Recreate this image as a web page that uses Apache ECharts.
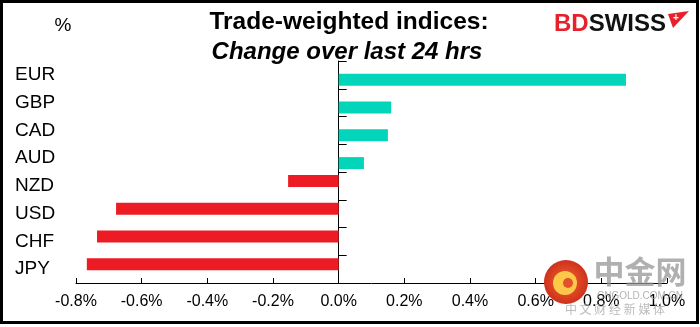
<!DOCTYPE html>
<html>
<head>
<meta charset="utf-8">
<script src="https://cdn.jsdelivr.net/npm/echarts@6/dist/echarts.min.js"></script>
<style>
  html, body { margin: 0; padding: 0; background: #fff; }
  #chart { width: 700px; height: 327px; }
</style>
</head>
<body>
<div id="chart"></div>
<script>
// Currencies, top to bottom
const currencies = ['EUR', 'GBP', 'CAD', 'AUD', 'NZD', 'USD', 'CHF', 'JPY'];
// Change in trade-weighted index over the last 24 hours, %
const changes = [0.875, 0.160, 0.150, 0.077, -0.154, -0.678, -0.736, -0.767];
// Value axis range and step, %
const axisMin = -0.8;
const axisMax = 1.0;
const axisStep = 0.2;

const FONT = '"Liberation Sans", Arial, sans-serif';
const UP = '#03d5ba';
const DOWN = '#ed1c24';

// Split into a falling and a rising series (Excel-style paired bars)
const fallers = changes.map(v => (v < 0 ? v : '-'));
const risers = changes.map(v => (v >= 0 ? v : '-'));

const chart = echarts.init(document.getElementById('chart'), null, { renderer: 'canvas' });

chart.setOption({
  animation: false,
  backgroundColor: '#fff',
  textStyle: { fontFamily: FONT },
  grid: { left: 76, right: 33, top: 61, bottom: 44, containLabel: false },
  xAxis: {
    type: 'value',
    min: axisMin,
    max: axisMax,
    interval: axisStep,
    axisLine: { show: true, onZero: false, lineStyle: { color: '#000', width: 1 } },
    axisTick: { show: true, inside: true, length: 5, lineStyle: { color: '#000' } },
    axisLabel: {
      color: '#000', fontSize: 16, fontFamily: FONT, margin: 11,
      formatter: v => v.toFixed(1) + '%'
    },
    splitLine: { show: false }
  },
  yAxis: [
    {
      // category names on the far left
      type: 'category',
      data: currencies,
      inverse: true,
      axisLine: { show: false, onZero: false },
      axisTick: { show: false },
      axisLabel: { color: '#000', fontSize: 19, fontFamily: FONT, align: 'left', margin: 61 }
    },
    {
      // zero line with inward ticks between categories
      type: 'category',
      data: currencies,
      inverse: true,
      position: 'left',
      axisLine: { show: true, onZero: true, lineStyle: { color: '#000', width: 1 } },
      axisTick: { show: true, inside: true, length: 8, lineStyle: { color: '#000' } },
      axisLabel: { show: false }
    }
  ],
  series: [
    {
      name: 'Down',
      type: 'bar',
      yAxisIndex: 0,
      data: fallers,
      barWidth: 12,
      barGap: '-17%',
      itemStyle: { color: DOWN }
    },
    {
      name: 'Up',
      type: 'bar',
      yAxisIndex: 0,
      data: risers,
      barWidth: 12,
      barGap: '-17%',
      itemStyle: { color: UP }
    }
  ],
  graphic: [
    // outer frame
    { type: 'rect', shape: { x: 1.5, y: 1.5, width: 696, height: 321 },
      style: { fill: null, stroke: '#000', lineWidth: 3 }, z: 100 },
    // unit
    { type: 'text', x: 63, y: 26,
      style: { text: '%', font: '19px ' + FONT, fill: '#000', textAlign: 'center', textVerticalAlign: 'middle' } },
    // title
    { type: 'text', x: 349, y: 22,
      style: { text: 'Trade-weighted indices:', font: 'bold 24.5px ' + FONT, fill: '#000',
               textAlign: 'center', textVerticalAlign: 'middle' } },
    { type: 'text', x: 347, y: 52,
      style: { text: 'Change over last 24 hrs', font: 'italic bold 24px ' + FONT, fill: '#000',
               textAlign: 'center', textVerticalAlign: 'middle' } },
    // brand mark
    { type: 'text', x: 554, y: 24,
      style: { text: '{b|BD}{s|SWISS}', textVerticalAlign: 'middle',
               rich: {
                 b: { font: 'bold 24px ' + FONT, fill: '#e8202a' },
                 s: { font: 'bold 24px ' + FONT, fill: '#111' }
               } } },
    { type: 'polygon', shape: { points: [[668, 14], [689, 11], [673, 28]] },
      style: { fill: '#e8202a' } },
    { type: 'text', x: 676, y: 18,
      style: { text: '+', font: 'bold 10px ' + FONT, fill: '#fff', textAlign: 'center', textVerticalAlign: 'middle' } },
    // site watermark
    { type: 'circle', shape: { cx: 566, cy: 282, r: 22 },
      style: { fill: new echarts.graphic.RadialGradient(0.5, 0.5, 0.6, [
        { offset: 0, color: '#f0672a' }, { offset: 1, color: '#c8261b' }]) }, z: 50 },
    { type: 'circle', shape: { cx: 565, cy: 283, r: 12 },
      style: { fill: '#fbc84a' }, z: 51 },
    { type: 'circle', shape: { cx: 568, cy: 283, r: 5 },
      style: { fill: '#e2512a' }, z: 52 },
    { type: 'text', x: 640, y: 271, z: 50,
      style: { text: '中金网', font: 'bold 31px "Noto Sans CJK SC", sans-serif', fill: 'rgba(150,150,150,0.75)',
               textAlign: 'center', textVerticalAlign: 'middle' } },
    { type: 'text', x: 640, y: 296, z: 50,
      style: { text: 'CNGOLD.COM.CN', font: '10px ' + FONT, fill: 'rgba(160,160,160,0.8)',
               textAlign: 'center', textVerticalAlign: 'middle' } },
    { type: 'text', x: 615, y: 309, z: 50,
      style: { text: '中 文 财 经 新 媒 体', font: '12px "Noto Sans CJK SC", sans-serif', fill: 'rgba(170,170,170,0.8)',
               textAlign: 'center', textVerticalAlign: 'middle' } }
  ]
});
</script>
</body>
</html>
